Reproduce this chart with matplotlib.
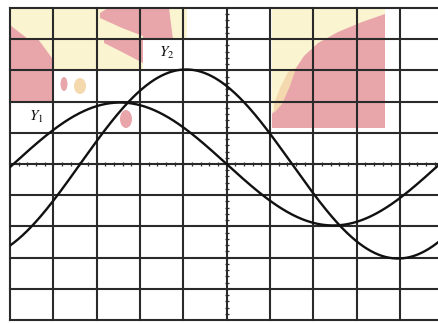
import numpy as np
import matplotlib
matplotlib.use("Agg")
import matplotlib.pyplot as plt
from matplotlib.patches import Polygon, Ellipse

plt.rcParams["mathtext.fontset"] = "stix"

# Two sinusoidal traces on a 10 x 10 division graticule
signal_labels = [r"$Y_1$", r"$Y_2$"]
amplitudes_div = [1.97, 3.03]        # peak height, in vertical divisions
periods_div = [9.84, 9.78]           # one full cycle, in horizontal divisions
rising_zero_div = [0.08, 1.62]       # where each trace crosses zero going up
label_pos_div = [(0.60, 1.50), (3.62, 3.56)]

x_divisions = np.arange(0, 11)
y_divisions = np.arange(-5, 6)

W, H = 438, 323
fig = plt.figure(figsize=(W / 100, H / 100), dpi=100)
ax = fig.add_axes([10 / W, 3 / H, 428 / W, 312 / H])
ax.set_xlim(0, 428 / 43.32)
ax.set_ylim(-5, 5)
ax.axis("off")

PINK = "#e8a6ab"
YELLOW = "#fbf4d0"
ORANGE = "#f4d9ae"


def px(xp, yp):
    """Convert a pixel position on the sheet to graticule units."""
    return ((xp - 10) / 43.32, (164 - yp) / 31.2)


def poly(points, color):
    ax.add_patch(Polygon([px(*p) for p in points], closed=True,
                         facecolor=color, edgecolor="none", zorder=0))


# Tinted areas on the upper-left cells
poly([(10, 8), (187, 8), (187, 39), (143, 39), (143, 69), (10, 69)], YELLOW)
poly([(10, 25), (28, 39), (10, 39)], PINK)
poly([(10, 39), (38, 39), (52, 58), (53, 102), (10, 102)], PINK)
poly([(108, 8), (143, 8), (143, 36), (122, 28), (100, 18), (100, 13)], PINK)
poly([(112, 39), (143, 39), (143, 63), (122, 52), (104, 43), (104, 39)], PINK)
poly([(143, 8), (169, 8), (171, 24), (173, 39), (143, 39)], PINK)
for (cx, cy, w, h, c) in [(64, 84, 7, 14, PINK), (80, 86, 12, 16, ORANGE),
                          (126, 119, 12, 18, PINK)]:
    cxd, cyd = px(cx, cy)
    ax.add_patch(Ellipse((cxd, cyd), w / 43.32, h / 31.2, facecolor=c,
                         edgecolor="none", zorder=0))

# Tinted area on the upper-right cells
poly([(272, 8), (385, 8), (385, 128), (272, 128)], YELLOW)
poly([(385, 14), (362, 22), (338, 32), (318, 43), (304, 56), (296, 68),
      (286, 86), (278, 104), (272, 114), (272, 128), (385, 128)], PINK)
poly([(296, 68), (288, 72), (280, 88), (274, 104), (274, 113), (282, 104),
      (290, 86)], ORANGE)

# Graticule
grid_kw = dict(color="#2a2a2a", lw=1.5, zorder=1, clip_on=False)
for xv in x_divisions:
    ax.axvline(xv, **grid_kw)
for yv in y_divisions:
    ax.axhline(yv, **grid_kw)

# Fine scale marks along the centre lines
minor = np.arange(0, 10.01, 0.2)
ax.plot(minor, np.zeros_like(minor), ls="none", marker="|", ms=3,
        mew=0.9, color="#2a2a2a", zorder=1)
minor_y = np.arange(-5, 5.01, 0.2)
ax.plot(np.full_like(minor_y, 5.0), minor_y, ls="none", marker="_", ms=3,
        mew=0.9, color="#2a2a2a", zorder=1)

# Traces
x = np.linspace(0, 10, 600)
for amp, per, x0 in zip(amplitudes_div, periods_div, rising_zero_div):
    ax.plot(x, amp * np.sin(2 * np.pi * (x - x0) / per), color="#111111",
            lw=1.7, zorder=2, solid_capstyle="round")

for text, (lx, ly) in zip(signal_labels, label_pos_div):
    ax.text(lx, ly, text, fontsize=11, ha="center", va="center",
            color="#111111", zorder=3)

fig.savefig("out.png", dpi=100)
